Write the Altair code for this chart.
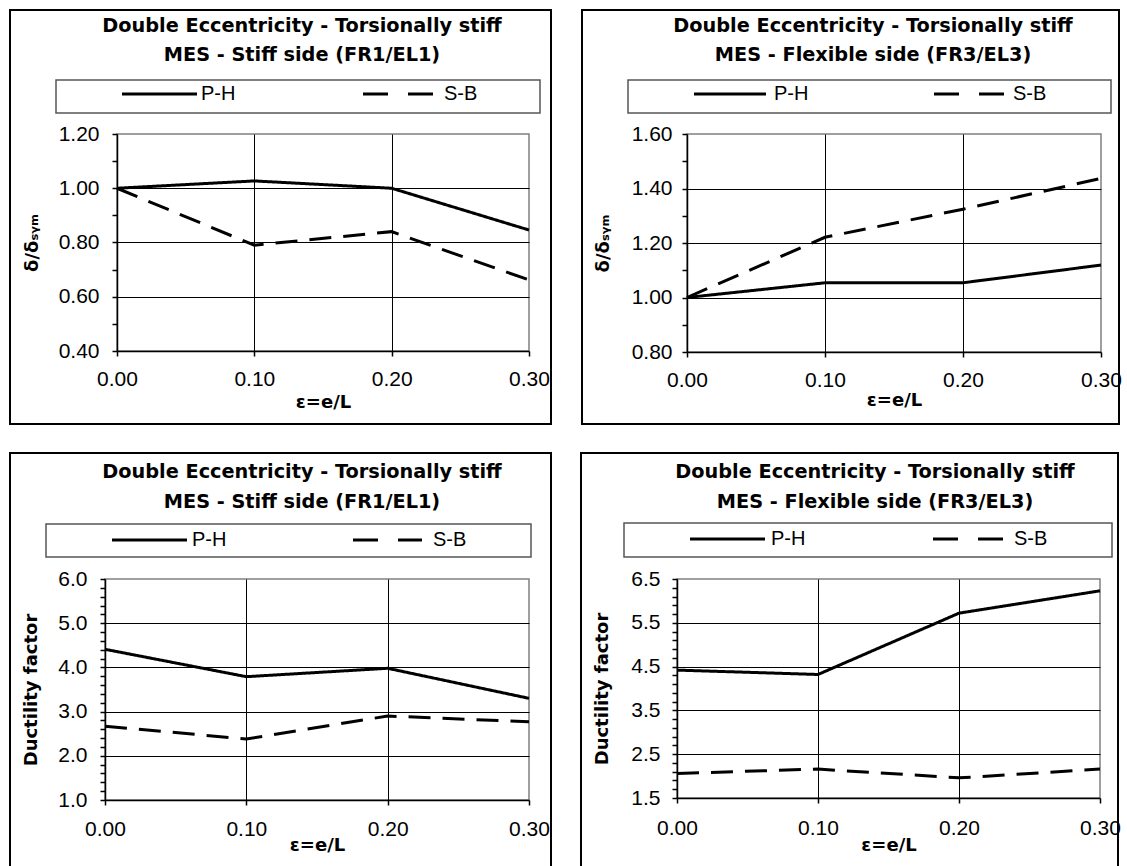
import altair as alt
import pandas as pd

# ---------------- data ----------------
eccentricity = [0.00, 0.10, 0.20, 0.30]
series_names = ["P-H", "S-B"]

title_main = "Double Eccentricity - Torsionally stiff"
subtitle_stiff = "MES - Stiff side (FR1/EL1)"
subtitle_flex = "MES - Flexible side (FR3/EL3)"
x_title = "ε=e/L"
y_title_disp = "δ/δₛᵧₘ"
y_title_duct = "Ductility factor"

disp_stiff_ph = [1.00, 1.027, 1.00, 0.846]
disp_stiff_sb = [1.00, 0.79, 0.84, 0.662]
disp_flex_ph = [1.00, 1.054, 1.054, 1.119]
disp_flex_sb = [1.00, 1.221, 1.324, 1.437]
duct_stiff_ph = [4.41, 3.79, 3.98, 3.30]
duct_stiff_sb = [2.67, 2.38, 2.90, 2.77]
duct_flex_ph = [4.42, 4.32, 5.72, 6.23]
duct_flex_sb = [2.06, 2.16, 1.96, 2.16]

x_ticks = [0.0, 0.1, 0.2, 0.3]
disp_stiff_ticks = [0.4, 0.5, 0.6, 0.7, 0.8, 0.9, 1.0, 1.1, 1.2]
disp_flex_ticks = [0.8, 0.9, 1.0, 1.1, 1.2, 1.3, 1.4, 1.5, 1.6]
duct_stiff_ticks = [1.0, 1.2, 1.4, 1.6, 1.8, 2.0, 2.2, 2.4, 2.6, 2.8, 3.0, 3.2, 3.4,
                    3.6, 3.8, 4.0, 4.2, 4.4, 4.6, 4.8, 5.0, 5.2, 5.4, 5.6, 5.8, 6.0]
duct_flex_ticks = [1.5, 1.7, 1.9, 2.1, 2.3, 2.5, 2.7, 2.9, 3.1, 3.3, 3.5, 3.7, 3.9,
                   4.1, 4.3, 4.5, 4.7, 4.9, 5.1, 5.3, 5.5, 5.7, 5.9, 6.1, 6.3, 6.5]

# ---------------- styling / layout ----------------
FONT = "Liberation Sans"
BOLD = "DejaVu Sans"
INK = "#000000"

layouts = {
    "TL": dict(w=412, h=217, frame=(-107, 434, -124, 290), tx=185, ty=(-108, -79),
               box=(-61, 423, -54, -21), ly=-40, solid=(5, 80), phx=84, dash=(246, 316), sbx=327,
               ytx=-85, ylp=13, xlp=23, xty=51),
    "TR": dict(w=414, h=218, frame=(-105, 432, -124, 290), tx=186, ty=(-108, -79),
               box=(-59, 424, -54, -21), ly=-40, solid=(7, 79), phx=87, dash=(247, 318), sbx=326,
               ytx=-84, ylp=10, xlp=23, xty=48),
    "BL": dict(w=424, h=221, frame=(-95, 446, -126, 290), tx=197, ty=(-107, -77),
               box=(-59, 426, -55, -22), ly=-39, solid=(7, 82), phx=87, dash=(248, 317), sbx=328,
               ytx=-74, ylp=13, xlp=24, xty=45),
    "BR": dict(w=423, h=219, frame=(-96, 441, -126, 290), tx=198, ty=(-107, -77),
               box=(-53, 435, -56, -22), ly=-40, solid=(13, 88), phx=94, dash=(256, 326), sbx=337,
               ytx=-75, ylp=12, xlp=25, xty=47),
}

DUMMY = pd.DataFrame({"d": [0]})


def panel(ph, sb, subtitle, ytitle, yticks, step, fmt, g):
    lo, hi = yticks[0], yticks[-1]
    df = pd.DataFrame({
        "e": eccentricity * 2,
        "v": ph + sb,
        "series": [series_names[0]] * len(ph) + [series_names[1]] * len(sb),
    })
    major = f"abs((datum.value - {lo}) / {step} - round((datum.value - {lo}) / {step})) < 0.001"
    grid_test = f"({major}) && datum.value > {lo} + 0.001 && datum.value < {hi} - 0.001"

    yaxis = alt.Axis(
        values=yticks, labelExpr=f"({major}) ? format(datum.value, '{fmt}') : ''",
        labelOverlap=False, tickSize=5, labelPadding=g["ylp"],
        grid=True, gridOpacity={"condition": {"test": grid_test, "value": 1}, "value": 0},
        title=ytitle, titleX=g["ytx"], titleY=g["h"] / 2, titleAngle=270,
        titleAlign="center", titleBaseline="middle",
    )
    xaxis = alt.Axis(
        values=x_ticks, format=".2f", labelFlush=False, labelOverlap=False,
        tickSize=5, labelPadding=g["xlp"], labelBaseline="middle",
        grid=True, gridOpacity={"condition": {"test": "datum.value > 0.05 && datum.value < 0.25",
                                              "value": 1}, "value": 0},
        title=x_title, titleY=g["xty"], titleBaseline="middle",
    )

    lines = alt.Chart(df).mark_line(color=INK, strokeWidth=3, strokeCap="butt").encode(
        x=alt.X("e:Q", scale=alt.Scale(domain=[0, 0.3], nice=False, zero=False), axis=xaxis),
        y=alt.Y("v:Q", scale=alt.Scale(domain=[lo, hi], nice=False, zero=False), axis=yaxis),
        strokeDash=alt.StrokeDash("series:N",
                                  scale=alt.Scale(domain=series_names, range=[[1, 0], [22, 12]]),
                                  legend=None),
        detail="series:N",
    )

    base = alt.Chart(DUMMY)
    fx1, fx2, fy1, fy2 = g["frame"]
    frame = base.mark_rect(fillOpacity=0, stroke=INK, strokeWidth=2).encode(
        x=alt.value(fx1), x2=alt.value(fx2), y=alt.value(fy1), y2=alt.value(fy2))
    bx1, bx2, by1, by2 = g["box"]
    box = base.mark_rect(fillOpacity=0, stroke="#555555", strokeWidth=1.5).encode(
        x=alt.value(bx1), x2=alt.value(bx2), y=alt.value(by1), y2=alt.value(by2))
    solid = base.mark_rule(color=INK, strokeWidth=3).encode(
        x=alt.value(g["solid"][0]), x2=alt.value(g["solid"][1]), y=alt.value(g["ly"]))
    dashed = base.mark_rule(color=INK, strokeWidth=3, strokeDash=[25, 20]).encode(
        x=alt.value(g["dash"][0]), x2=alt.value(g["dash"][1]), y=alt.value(g["ly"]))
    leg_txt = base.mark_text(font=FONT, fontSize=20, align="left", baseline="middle", color=INK)
    ph_lab = leg_txt.encode(x=alt.value(g["phx"]), y=alt.value(g["ly"]), text=alt.value(series_names[0]))
    sb_lab = leg_txt.encode(x=alt.value(g["sbx"]), y=alt.value(g["ly"]), text=alt.value(series_names[1]))
    ttl = base.mark_text(font=BOLD, fontSize=19.3, fontWeight="bold", align="center",
                         baseline="middle", color=INK)
    t1 = ttl.encode(x=alt.value(g["tx"]), y=alt.value(g["ty"][0]), text=alt.value(title_main))
    t2 = ttl.encode(x=alt.value(g["tx"]), y=alt.value(g["ty"][1]), text=alt.value(subtitle))

    return alt.layer(frame, box, solid, dashed, ph_lab, sb_lab, t1, t2, lines).properties(
        width=g["w"], height=g["h"])


def spacer():
    # invisible 1x1 cell so that each row's first panel is offset by its own left extent
    return alt.Chart(DUMMY).mark_rect(opacity=0).encode(
        x=alt.value(0), x2=alt.value(1), y=alt.value(0), y2=alt.value(1)
    ).properties(width=1, height=1, view=alt.ViewBackground(strokeOpacity=0))


tl = panel(disp_stiff_ph, disp_stiff_sb, subtitle_stiff, y_title_disp, disp_stiff_ticks, 0.2, ".2f", layouts["TL"])
tr = panel(disp_flex_ph, disp_flex_sb, subtitle_flex, y_title_disp, disp_flex_ticks, 0.2, ".2f", layouts["TR"])
bl = panel(duct_stiff_ph, duct_stiff_sb, subtitle_stiff, y_title_duct, duct_stiff_ticks, 1.0, ".1f", layouts["BL"])
br = panel(duct_flex_ph, duct_flex_sb, subtitle_flex, y_title_duct, duct_flex_ticks, 1.0, ".1f", layouts["BR"])

row_top = alt.hconcat(spacer(), alt.hconcat(tl, tr, spacing=27), spacing=0)
row_bottom = alt.hconcat(spacer(), alt.hconcat(bl, br, spacing=26), spacing=0)

chart = alt.vconcat(row_top, row_bottom, spacing=25).properties(
    padding={"left": 7, "top": 8, "right": 0, "bottom": 0},
    background="white",
).configure_view(
    stroke="#808080", strokeWidth=1.5,
).configure_axis(
    domainColor=INK, domainWidth=1.5, tickColor=INK, tickWidth=1.5,
    gridColor=INK, gridWidth=1,
    labelFont=FONT, labelFontSize=21, labelColor=INK,
    titleFont=BOLD, titleFontSize=18, titleFontWeight="bold", titleColor=INK,
)

chart.save("out.html", embed_options={"renderer": "svg", "actions": False})
